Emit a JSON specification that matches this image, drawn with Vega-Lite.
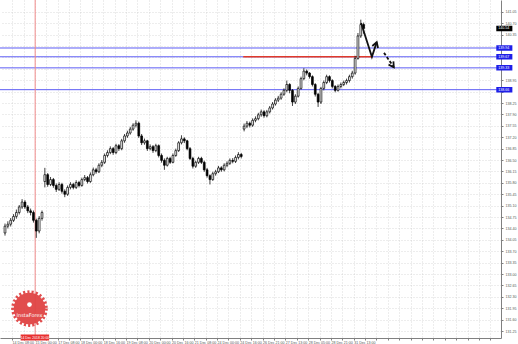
{
  "$schema": "https://vega.github.io/schema/vega-lite/v6.json",
  "width": 501,
  "height": 338,
  "autosize": {"type": "none"},
  "padding": {"left": 0, "top": 0, "right": 17, "bottom": 6},
  "background": "#ffffff",
  "config": {
    "view": {"stroke": null},
    "axis": {"labelFont": "Liberation Sans", "labelFontSize": 3.6, "labelColor": "#555555", "domainColor": "#808080", "tickColor": "#808080", "tickSize": 2, "gridColor": "#c4c4c4", "gridDash": [1, 2], "gridWidth": 0.6, "labelOverlap": false, "labelBound": false, "labelFlush": false}
  },
  "datasets": {
    "candles": [
      {"h":0,"o":134.26,"hi":134.55,"lo":134.18,"c":134.47},
      {"h":2,"o":134.47,"hi":134.62,"lo":134.40,"c":134.53},
      {"h":4,"o":134.53,"hi":134.72,"lo":134.46,"c":134.65},
      {"h":6,"o":134.65,"hi":134.84,"lo":134.60,"c":134.77},
      {"h":8,"o":134.77,"hi":134.98,"lo":134.70,"c":134.89},
      {"h":10,"o":134.89,"hi":135.12,"lo":134.83,"c":135.06},
      {"h":12,"o":135.06,"hi":135.30,"lo":135.00,"c":135.21},
      {"h":14,"o":135.21,"hi":135.27,"lo":135.00,"c":135.06},
      {"h":16,"o":135.06,"hi":135.12,"lo":134.87,"c":134.94},
      {"h":18,"o":134.94,"hi":135.01,"lo":134.80,"c":134.89},
      {"h":20,"o":134.89,"hi":134.95,"lo":134.58,"c":134.65},
      {"h":22,"o":134.65,"hi":134.70,"lo":134.11,"c":134.32},
      {"h":24,"o":134.32,"hi":134.78,"lo":134.25,"c":134.71},
      {"h":26,"o":134.71,"hi":134.95,"lo":134.64,"c":134.89},
      {"h":28,"o":135.84,"hi":136.26,"lo":135.66,"c":136.05},
      {"h":30,"o":136.05,"hi":136.10,"lo":135.68,"c":135.75},
      {"h":32,"o":135.75,"hi":135.98,"lo":135.70,"c":135.90},
      {"h":34,"o":135.90,"hi":135.95,"lo":135.65,"c":135.72},
      {"h":36,"o":135.72,"hi":135.78,"lo":135.52,"c":135.60},
      {"h":38,"o":135.60,"hi":135.82,"lo":135.55,"c":135.75},
      {"h":40,"o":135.75,"hi":135.80,"lo":135.47,"c":135.54},
      {"h":42,"o":135.54,"hi":135.60,"lo":135.36,"c":135.45},
      {"h":44,"o":135.45,"hi":135.72,"lo":135.40,"c":135.66},
      {"h":46,"o":135.66,"hi":135.82,"lo":135.60,"c":135.75},
      {"h":48,"o":135.75,"hi":135.80,"lo":135.60,"c":135.66},
      {"h":50,"o":135.66,"hi":135.88,"lo":135.61,"c":135.81},
      {"h":52,"o":135.81,"hi":135.86,"lo":135.66,"c":135.72},
      {"h":54,"o":135.72,"hi":135.96,"lo":135.68,"c":135.90},
      {"h":56,"o":135.90,"hi":136.04,"lo":135.85,"c":135.96},
      {"h":58,"o":135.96,"hi":136.01,"lo":135.78,"c":135.84},
      {"h":60,"o":135.84,"hi":136.12,"lo":135.80,"c":136.05},
      {"h":62,"o":136.05,"hi":136.27,"lo":136.00,"c":136.20},
      {"h":64,"o":136.20,"hi":136.26,"lo":136.08,"c":136.14},
      {"h":66,"o":136.14,"hi":136.40,"lo":136.10,"c":136.34},
      {"h":68,"o":136.34,"hi":136.50,"lo":136.28,"c":136.43},
      {"h":70,"o":136.43,"hi":136.70,"lo":136.38,"c":136.64},
      {"h":72,"o":136.64,"hi":136.80,"lo":136.58,"c":136.73},
      {"h":74,"o":136.73,"hi":136.92,"lo":136.68,"c":136.85},
      {"h":76,"o":136.85,"hi":136.90,"lo":136.66,"c":136.73},
      {"h":78,"o":136.73,"hi":137.00,"lo":136.68,"c":136.94},
      {"h":80,"o":136.94,"hi":136.99,"lo":136.78,"c":136.85},
      {"h":82,"o":136.85,"hi":137.15,"lo":136.80,"c":137.09},
      {"h":84,"o":137.09,"hi":137.30,"lo":137.03,"c":137.24},
      {"h":86,"o":137.24,"hi":137.40,"lo":137.18,"c":137.33},
      {"h":88,"o":137.33,"hi":137.52,"lo":137.28,"c":137.45},
      {"h":90,"o":137.45,"hi":137.63,"lo":137.40,"c":137.57},
      {"h":92,"o":137.57,"hi":137.72,"lo":137.50,"c":137.63},
      {"h":94,"o":137.63,"hi":137.68,"lo":137.18,"c":137.24},
      {"h":96,"o":137.24,"hi":137.30,"lo":136.96,"c":137.03},
      {"h":98,"o":137.03,"hi":137.16,"lo":136.97,"c":137.09},
      {"h":100,"o":137.09,"hi":137.12,"lo":136.78,"c":136.85},
      {"h":102,"o":136.85,"hi":136.98,"lo":136.80,"c":136.91},
      {"h":104,"o":136.91,"hi":136.96,"lo":136.72,"c":136.79},
      {"h":106,"o":136.79,"hi":137.00,"lo":136.74,"c":136.94},
      {"h":108,"o":136.94,"hi":136.98,"lo":136.58,"c":136.64},
      {"h":110,"o":136.64,"hi":136.70,"lo":136.42,"c":136.49},
      {"h":112,"o":136.49,"hi":136.55,"lo":136.20,"c":136.34},
      {"h":114,"o":136.34,"hi":136.60,"lo":136.30,"c":136.55},
      {"h":116,"o":136.55,"hi":136.60,"lo":136.38,"c":136.43},
      {"h":118,"o":136.43,"hi":136.70,"lo":136.40,"c":136.64},
      {"h":120,"o":136.64,"hi":136.85,"lo":136.60,"c":136.79},
      {"h":122,"o":136.79,"hi":137.08,"lo":136.75,"c":137.03},
      {"h":124,"o":137.03,"hi":137.26,"lo":136.98,"c":137.15},
      {"h":126,"o":137.15,"hi":137.20,"lo":137.02,"c":137.09},
      {"h":128,"o":137.09,"hi":137.12,"lo":136.80,"c":136.85},
      {"h":130,"o":136.85,"hi":136.90,"lo":136.50,"c":136.55},
      {"h":132,"o":136.55,"hi":136.60,"lo":136.24,"c":136.31},
      {"h":134,"o":136.31,"hi":136.48,"lo":136.26,"c":136.43},
      {"h":136,"o":136.43,"hi":136.60,"lo":136.38,"c":136.55},
      {"h":138,"o":136.55,"hi":136.60,"lo":136.38,"c":136.43},
      {"h":140,"o":136.43,"hi":136.48,"lo":136.14,"c":136.20},
      {"h":142,"o":136.20,"hi":136.26,"lo":135.96,"c":136.02},
      {"h":144,"o":136.02,"hi":136.06,"lo":135.75,"c":135.90},
      {"h":146,"o":135.90,"hi":136.14,"lo":135.86,"c":136.08},
      {"h":148,"o":136.08,"hi":136.20,"lo":136.02,"c":136.14},
      {"h":150,"o":136.14,"hi":136.32,"lo":136.10,"c":136.26},
      {"h":152,"o":136.26,"hi":136.31,"lo":136.14,"c":136.20},
      {"h":154,"o":136.20,"hi":136.40,"lo":136.15,"c":136.34},
      {"h":156,"o":136.34,"hi":136.46,"lo":136.28,"c":136.40},
      {"h":158,"o":136.40,"hi":136.55,"lo":136.35,"c":136.49},
      {"h":160,"o":136.49,"hi":136.56,"lo":136.40,"c":136.46},
      {"h":162,"o":136.46,"hi":136.64,"lo":136.41,"c":136.58},
      {"h":164,"o":136.58,"hi":136.74,"lo":136.52,"c":136.67},
      {"h":166,"o":136.67,"hi":136.72,"lo":136.55,"c":136.61},
      {"h":168,"o":137.45,"hi":137.62,"lo":137.38,"c":137.54},
      {"h":170,"o":137.54,"hi":137.70,"lo":137.48,"c":137.63},
      {"h":172,"o":137.63,"hi":137.68,"lo":137.50,"c":137.57},
      {"h":174,"o":137.57,"hi":137.78,"lo":137.52,"c":137.72},
      {"h":176,"o":137.72,"hi":137.84,"lo":137.66,"c":137.77},
      {"h":178,"o":137.77,"hi":137.95,"lo":137.72,"c":137.89},
      {"h":180,"o":137.89,"hi":138.05,"lo":137.83,"c":137.98},
      {"h":182,"o":137.98,"hi":138.03,"lo":137.80,"c":137.86},
      {"h":184,"o":137.86,"hi":138.04,"lo":137.81,"c":137.98},
      {"h":186,"o":137.98,"hi":138.16,"lo":137.93,"c":138.10},
      {"h":188,"o":138.10,"hi":138.28,"lo":138.05,"c":138.22},
      {"h":190,"o":138.22,"hi":138.40,"lo":138.17,"c":138.34},
      {"h":192,"o":138.34,"hi":138.47,"lo":138.28,"c":138.40},
      {"h":194,"o":138.40,"hi":138.58,"lo":138.35,"c":138.52},
      {"h":196,"o":138.52,"hi":138.70,"lo":138.47,"c":138.64},
      {"h":198,"o":138.64,"hi":138.94,"lo":138.58,"c":138.82},
      {"h":200,"o":138.82,"hi":138.86,"lo":138.55,"c":138.64},
      {"h":202,"o":138.64,"hi":138.68,"lo":138.16,"c":138.28},
      {"h":204,"o":138.28,"hi":138.52,"lo":138.22,"c":138.46},
      {"h":206,"o":138.46,"hi":138.76,"lo":138.42,"c":138.70},
      {"h":208,"o":138.70,"hi":139.06,"lo":138.66,"c":139.00},
      {"h":210,"o":139.00,"hi":139.32,"lo":138.95,"c":139.23},
      {"h":212,"o":139.23,"hi":139.28,"lo":139.10,"c":139.17},
      {"h":214,"o":139.17,"hi":139.20,"lo":139.00,"c":139.06},
      {"h":216,"o":139.06,"hi":139.10,"lo":138.76,"c":138.82},
      {"h":218,"o":138.82,"hi":138.86,"lo":138.45,"c":138.52},
      {"h":220,"o":138.52,"hi":138.56,"lo":138.13,"c":138.28},
      {"h":222,"o":138.28,"hi":138.75,"lo":138.22,"c":138.70},
      {"h":224,"o":138.70,"hi":138.94,"lo":138.64,"c":138.88},
      {"h":226,"o":138.88,"hi":139.12,"lo":138.83,"c":139.06},
      {"h":228,"o":139.06,"hi":139.10,"lo":138.88,"c":138.94},
      {"h":230,"o":138.94,"hi":138.98,"lo":138.70,"c":138.76},
      {"h":232,"o":138.76,"hi":138.80,"lo":138.58,"c":138.64},
      {"h":234,"o":138.64,"hi":138.82,"lo":138.60,"c":138.76},
      {"h":236,"o":138.76,"hi":138.88,"lo":138.70,"c":138.82},
      {"h":238,"o":138.82,"hi":138.94,"lo":138.77,"c":138.88},
      {"h":240,"o":138.88,"hi":139.00,"lo":138.82,"c":138.94},
      {"h":242,"o":138.94,"hi":139.12,"lo":138.88,"c":139.06},
      {"h":244,"o":139.06,"hi":139.24,"lo":139.00,"c":139.17},
      {"h":246,"o":139.17,"hi":139.70,"lo":139.12,"c":139.62},
      {"h":248,"o":139.62,"hi":140.40,"lo":139.58,"c":140.31},
      {"h":250,"o":140.31,"hi":140.81,"lo":140.25,"c":140.66},
      {"h":252,"o":140.66,"hi":140.72,"lo":140.38,"c":140.54}
    ],
    "levels": [
      {"p": 139.94, "t": "139.94", "kind": "blue"},
      {"p": 139.67, "t": "139.67", "kind": "blue"},
      {"p": 139.33, "t": "139.33", "kind": "blue"},
      {"p": 138.66, "t": "138.66", "kind": "blue"},
      {"p": 140.54, "t": "140.54", "kind": "price"}
    ],
    "arrows": [
      {"g": "s1", "o": 0, "h": 250.2, "p": 140.71},
      {"g": "s1", "o": 1, "h": 257.8, "p": 139.67},
      {"g": "s1", "o": 2, "h": 261.2, "p": 140.12},
      {"g": "s2", "o": 0, "h": 258.1, "p": 140.00},
      {"g": "s2", "o": 1, "h": 261.2, "p": 140.12},
      {"g": "s2", "o": 2, "h": 262.1, "p": 139.94},
      {"g": "d1", "o": 0, "h": 266.3, "p": 139.79},
      {"g": "d1", "o": 1, "h": 273.2, "p": 139.35},
      {"g": "s3", "o": 0, "h": 272.9, "p": 139.53},
      {"g": "s3", "o": 1, "h": 273.2, "p": 139.35},
      {"g": "s3", "o": 2, "h": 269.5, "p": 139.43}
    ],
    "logo": [{"h": 17.2, "p": 131.94, "name": "InstaForex"}]
  },
  "encoding": {
    "x": {"type": "quantitative", "title": null, "scale": {"domain": [0, 345], "nice": false, "zero": false},
      "axis": {"orient": "bottom", "title": null, "values": [5,13,21,29,37,45,53,61,69,77,85,93,101,109,117,125,133,141,149,157,165,173,181,189,197,205,213,221,229,237,245,253,261,269,277,285,293,301,309,317,325,333,341], "format": "d", "labelAlign": "left", "labelBaseline": "top", "labelPadding": 0, "grid": true,
        "labelExpr": "({'5':'14 Dec 08:00','21':'15 Dec 00:00','37':'17 Dec 08:00','53':'18 Dec 00:00','69':'18 Dec 16:00','85':'19 Dec 08:00','101':'20 Dec 00:00','117':'20 Dec 16:00','133':'21 Dec 08:00','149':'24 Dec 00:00','165':'24 Dec 16:00','181':'26 Dec 21:00','197':'27 Dec 13:00','213':'28 Dec 05:00','229':'28 Dec 21:00','245':'31 Dec 13:00'})[datum.label] || ''"}},
    "y": {"type": "quantitative", "title": null, "scale": {"domain": [131.19, 141.26], "nice": false, "zero": false},
      "axis": {"orient": "right", "title": null, "values": [131.25,131.6,131.95,132.3,132.65,133.0,133.35,133.7,134.05,134.4,134.75,135.1,135.45,135.8,136.15,136.5,136.85,137.2,137.55,137.9,138.25,138.6,138.95,139.3,139.65,140.0,140.35,140.7,141.05], "format": ".2f", "labelPadding": 2, "grid": true,
        "labelExpr": "indexof(['140.00','139.65','139.30','138.60'], datum.label) >= 0 ? '' : datum.label"}}
  },
  "layer": [
    {
      "data": {"name": "levels"},
      "transform": [{"filter": "datum.kind == 'blue'"}],
      "mark": {"type": "rule", "color": "#5c5cf5", "strokeWidth": 1},
      "encoding": {
        "y": {"field": "p"}
      }
    },
    {
      "data": {"values": [{"h": 21.2}]},
      "mark": {"type": "rule", "color": "#f08a8a", "strokeWidth": 1},
      "encoding": {
        "x": {"field": "h"}
      }
    },
    {
      "data": {"values": [{"h1": 167.4, "h2": 258.3, "p": 139.67}]},
      "mark": {"type": "rule", "color": "#e03a2a", "strokeWidth": 1.5},
      "encoding": {
        "x": {"field": "h1"},
        "x2": {"field": "h2"},
        "y": {"field": "p"}
      }
    },
    {
      "data": {"name": "candles"},
      "mark": {"type": "rule", "color": "#111111", "strokeWidth": 0.8},
      "encoding": {
        "x": {"field": "h"},
        "y": {"field": "lo"},
        "y2": {"field": "hi"}
      }
    },
    {
      "data": {"name": "candles"},
      "mark": {"type": "bar", "orient": "vertical", "size": 1.8, "stroke": "#000000", "strokeWidth": 0.7},
      "encoding": {
        "x": {"field": "h"},
        "y": {"field": "o"},
        "y2": {"field": "c"},
        "fill": {"condition": {"test": "datum.c >= datum.o", "value": "#ffffff"}, "value": "#000000"}
      }
    },
    {
      "data": {"name": "arrows"},
      "transform": [{"filter": "datum.g != 'd1'"}],
      "mark": {"type": "line", "color": "#111111", "strokeWidth": 1.8, "strokeJoin": "miter"},
      "encoding": {
        "x": {"field": "h"},
        "y": {"field": "p"},
        "detail": {"field": "g"},
        "order": {"field": "o"}
      }
    },
    {
      "data": {"name": "arrows"},
      "transform": [{"filter": "datum.g == 'd1'"}],
      "mark": {"type": "line", "color": "#111111", "strokeWidth": 1.8, "strokeDash": [3, 2]},
      "encoding": {
        "x": {"field": "h"},
        "y": {"field": "p"},
        "order": {"field": "o"}
      }
    },
    {
      "data": {"name": "levels"},
      "mark": {"type": "bar", "orient": "horizontal", "size": 5.5},
      "encoding": {
        "x": {"datum": 345.2},
        "x2": {"datum": 356.5},
        "y": {"field": "p"},
        "fill": {"condition": {"test": "datum.kind == 'blue'", "value": "#1e1ee8"}, "value": "#000000"}
      }
    },
    {
      "data": {"name": "levels"},
      "mark": {"type": "text", "align": "left", "baseline": "middle", "fontSize": 3.6, "font": "Liberation Sans", "color": "#ffffff"},
      "encoding": {
        "x": {"datum": 346.6},
        "y": {"field": "p"},
        "text": {"field": "t"}
      }
    },
    {
      "data": {"name": "logo"},
      "mark": {"type": "point", "shape": "circle", "filled": true, "size": 1000, "color": "#e04444", "stroke": "#e04444", "strokeWidth": 5, "strokeDash": [2, 2], "opacity": 0.95},
      "encoding": {
        "x": {"field": "h"},
        "y": {"field": "p"}
      }
    },
    {
      "data": {"name": "logo"},
      "mark": {"type": "point", "shape": "circle", "filled": true, "size": 22, "color": "#ffffff", "opacity": 1},
      "encoding": {
        "x": {"field": "h"},
        "y": {"field": "p"},
        "yOffset": {"value": -4}
      }
    },
    {
      "data": {"name": "logo"},
      "mark": {"type": "text", "align": "center", "baseline": "middle", "fontSize": 5, "font": "DejaVu Sans", "color": "#ffffff", "dy": 6},
      "encoding": {
        "x": {"field": "h"},
        "y": {"field": "p"},
        "text": {"field": "name"}
      }
    },
    {
      "data": {"values": [{"t": "14 Dec 2018 20:00"}]},
      "mark": {"type": "bar", "orient": "horizontal", "size": 6, "color": "#e83030"},
      "encoding": {
        "x": {"datum": 11},
        "x2": {"datum": 31},
        "y": {"datum": 131.05}
      }
    },
    {
      "data": {"values": [{"t": "14 Dec 2018 20:00"}]},
      "mark": {"type": "text", "align": "center", "baseline": "middle", "fontSize": 3.4, "font": "Liberation Sans", "color": "#ffffff"},
      "encoding": {
        "x": {"datum": 21},
        "y": {"datum": 131.05},
        "text": {"field": "t"}
      }
    }
  ]
}
